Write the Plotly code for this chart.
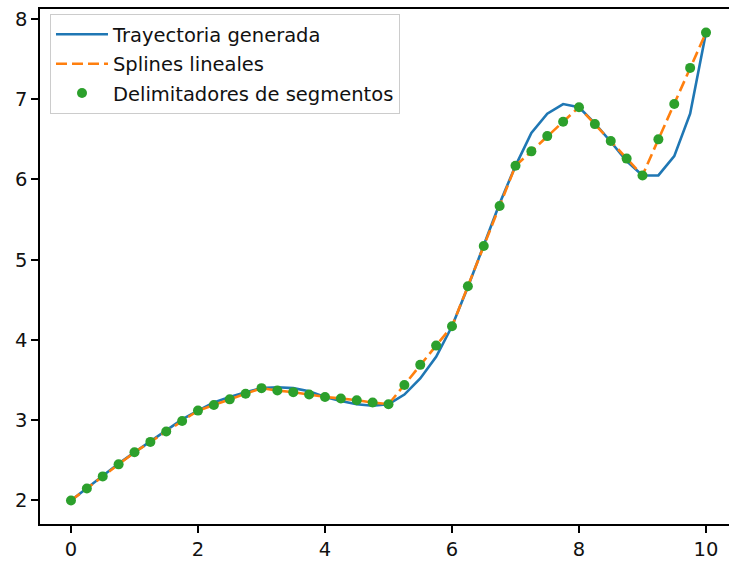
import plotly.graph_objects as go

# Sample positions (every 0.25 on [0, 10])
x_samples = [i * 0.25 for i in range(41)]

# Generated trajectory evaluated at the sample positions
trayectoria = [
    2.00, 2.155, 2.31, 2.46, 2.60,
    2.74, 2.88, 3.01, 3.12,
    3.22, 3.29, 3.35, 3.40,
    3.41, 3.40, 3.36, 3.29,
    3.24, 3.20, 3.18, 3.20,
    3.32, 3.52, 3.79, 4.17,
    4.66, 5.18, 5.70, 6.17,
    6.58, 6.82, 6.94, 6.90,
    6.70, 6.47, 6.23, 6.05,
    6.05, 6.29, 6.82, 7.83,
]

# Linear spline evaluated at the same positions (segment delimiters)
splines = [
    2.00, 2.15, 2.30, 2.45, 2.60,
    2.73, 2.86, 2.99, 3.12,
    3.19, 3.26, 3.33, 3.40,
    3.37, 3.35, 3.32, 3.29,
    3.27, 3.25, 3.22, 3.20,
    3.44, 3.69, 3.93, 4.17,
    4.67, 5.17, 5.67, 6.17,
    6.35, 6.54, 6.72, 6.90,
    6.69, 6.48, 6.26, 6.05,
    6.50, 6.94, 7.39, 7.83,
]

x_ticks = [0, 2, 4, 6, 8, 10]
y_ticks = [2, 3, 4, 5, 6, 7, 8]

fig = go.Figure()
fig.add_trace(go.Scatter(
    x=x_samples, y=trayectoria, mode="lines", name="Trayectoria generada",
    line=dict(color="#1f77b4", width=2.6), legendgroup="a",
))
fig.add_trace(go.Scatter(
    x=x_samples, y=splines, mode="lines", name="Splines lineales",
    line=dict(color="#ff7f0e", width=2.6, dash="11px,5px"), legendgroup="b",
))
fig.add_trace(go.Scatter(
    x=x_samples, y=splines, mode="markers", name="Delimitadores de segmentos",
    marker=dict(color="#2ca02c", size=10), legendgroup="c",
))

axis_common = dict(
    showgrid=False, zeroline=False, showline=True, linecolor="black",
    linewidth=1.5, ticks="outside", ticklen=7, tickwidth=1.5,
    tickcolor="black", tickfont=dict(family="DejaVu Sans", size=19.5, color="#111111"),
)

fig.update_layout(
    width=729, height=561,
    margin=dict(l=40, r=0, t=9, b=33, pad=0),
    paper_bgcolor="white", plot_bgcolor="white",
    font=dict(family="DejaVu Sans", size=19.5, color="#111111"),
    xaxis=dict(range=[-0.488, 10.362], tickvals=x_ticks, mirror=True, **axis_common),
    yaxis=dict(range=[1.707, 8.124], tickvals=y_ticks, **axis_common),
    legend=dict(
        x=0.0145, y=0.99, xanchor="left", yanchor="top",
        bgcolor="rgba(255,255,255,0.8)", bordercolor="#cccccc", borderwidth=1,
        font=dict(family="DejaVu Sans", size=19.5, color="#111111"),
        tracegroupgap=1, itemwidth=52,
    ),
    showlegend=True,
)

fig.write_html("out.html")
